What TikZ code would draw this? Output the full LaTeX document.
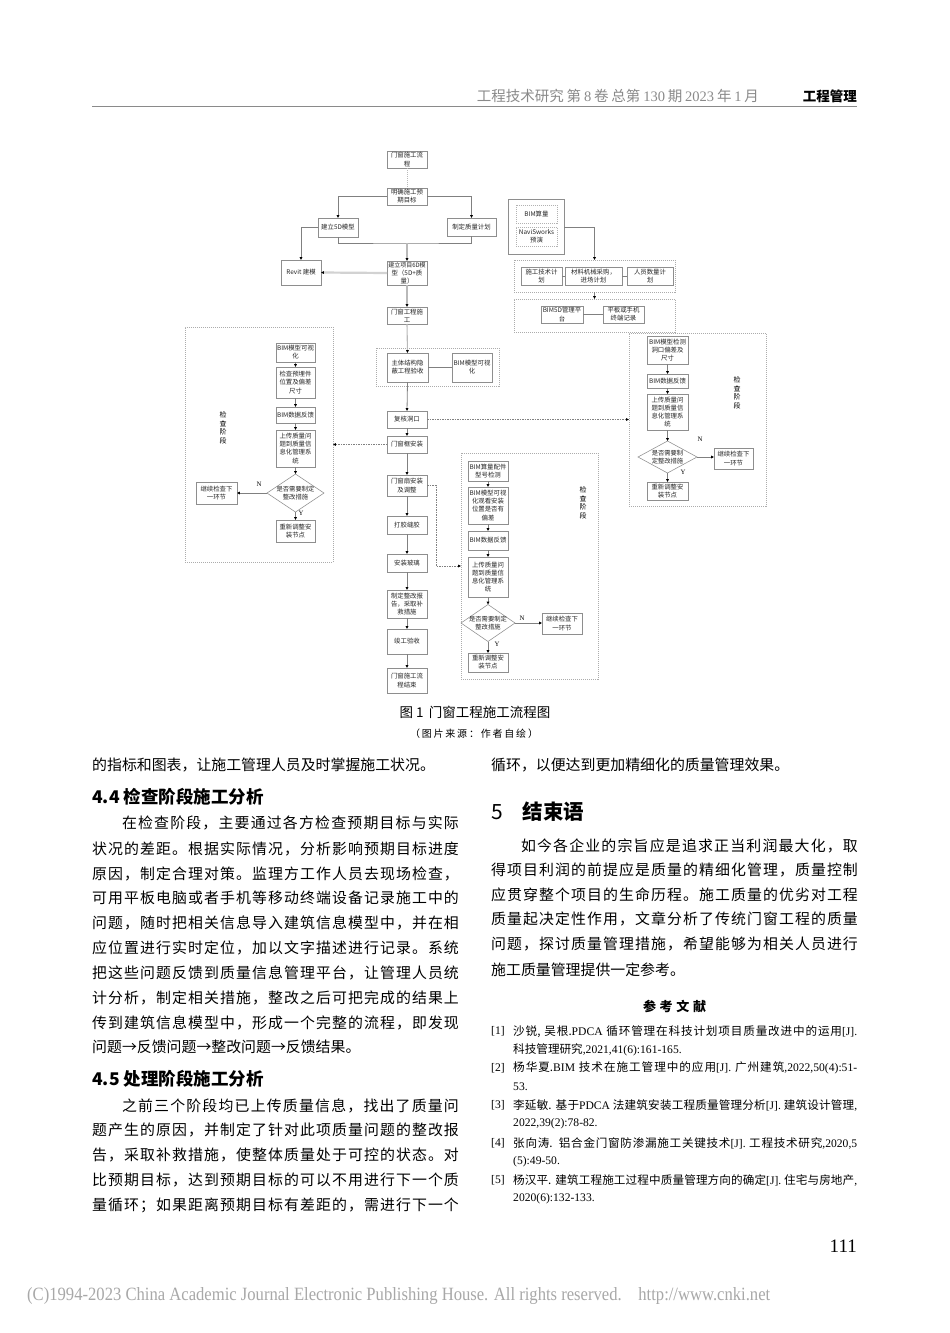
\documentclass[tikz,border=0pt]{standalone}
\usepackage{fontspec}
\setmainfont{Noto Sans CJK SC}
\newfontfamily\tnr{Liberation Serif}
\usetikzlibrary{arrows.meta,shapes.geometric}
% inter-character stretch glue between CJK characters
\XeTeXinterchartokenstate=1
\newXeTeXintercharclass\mycjkcls
\newcount\mycc
\mycc="4E00 \loop \XeTeXcharclass\mycc=\mycjkcls \advance\mycc by 1 \ifnum\mycc<"A000 \repeat
\mycc="3000 \loop \XeTeXcharclass\mycc=\mycjkcls \advance\mycc by 1 \ifnum\mycc<"3040 \repeat
\mycc="FF00 \loop \XeTeXcharclass\mycc=\mycjkcls \advance\mycc by 1 \ifnum\mycc<"FFF0 \repeat
\mycc="2190 \loop \XeTeXcharclass\mycc=\mycjkcls \advance\mycc by 1 \ifnum\mycc<"2200 \repeat
\XeTeXinterchartoks\mycjkcls\mycjkcls={\hskip0pt plus 1pt\relax}
\definecolor{bxc}{HTML}{8E8E8E}
\definecolor{lnc}{HTML}{808080}
\definecolor{hdc}{HTML}{8A8A8A}
\definecolor{cpc}{HTML}{A8A8A8}
\newcount\tcnt
\newcommand\mybx[6]{%
  \pgfmathsetmacro\mybw{#4-#2}\pgfmathsetmacro\mybh{#5-#3}%
  \node[bbox,minimum width=\mybw pt,minimum height=\mybh pt] (#1) at ({(#2+#4)/2},{(#3+#5)/2}) {#6};}
\newcommand\mydbx[6]{%
  \pgfmathsetmacro\mybw{#4-#2}\pgfmathsetmacro\mybh{#5-#3}%
  \node[dbox,minimum width=\mybw pt,minimum height=\mybh pt] (#1) at ({(#2+#4)/2},{(#3+#5)/2}) {#6};}
\newcommand\mygp[6]{%
  \pgfmathsetmacro\mybw{#4-#2}\pgfmathsetmacro\mybh{#5-#3}%
  \node[#6,minimum width=\mybw pt,minimum height=\mybh pt] (#1) at ({(#2+#4)/2},{(#3+#5)/2}) {};}
\newcommand\jl[3]{\global\advance\tcnt by 1\node[btxt] (tx\the\tcnt) at (#1,#2) {\makebox[366.7pt][s]{#3}};}
\newcommand\nl[3]{\global\advance\tcnt by 1\node[btxt] (tx\the\tcnt) at (#1,#2) {#3};}
\newcommand\rl[3]{\global\advance\tcnt by 1\node[rtxt] (tx\the\tcnt) at (#1,#2) {#3};}
\newcommand\rj[3]{\global\advance\tcnt by 1\node[rtxt] (tx\the\tcnt) at (#1,#2) {\makebox[344pt][s]{#3}};}
\begin{document}
\begin{tikzpicture}[x=1pt,y=-1pt,
 bbox/.style={draw=bxc,line width=0.55pt,inner sep=0pt,outer sep=0pt,align=center,font=\fontsize{6.4}{8.1}\selectfont,text=black!85},
 dbox/.style={bbox,dash pattern=on 1pt off 1pt,draw=gray!60},
 grp/.style={draw=gray!65,dash pattern=on 1pt off 1pt,line width=0.55pt,inner sep=0pt,outer sep=0pt},
 sgrp/.style={draw=bxc,line width=0.7pt,inner sep=0pt,outer sep=0pt},
 ln/.style={draw=lnc,line width=0.8pt},
 arr/.style={ln,-{Triangle[length=2.8pt,width=2.6pt,color=black]}},
 darr/.style={arr,dash pattern=on 1.5pt off 1pt,line width=0.6pt},
 dmd/.style={shape=diamond,draw=bxc,line width=0.55pt,inner sep=0pt,outer sep=0pt},
 dtxt/.style={align=center,font=\fontsize{6.3}{8}\selectfont,inner sep=0pt,text=black!85},
 yn/.style={font=\tnr\fontsize{6.8}{7}\selectfont,inner sep=0pt},
 vt/.style={align=center,font=\fontsize{7}{8.6}\selectfont,inner sep=0pt},
 btxt/.style={anchor=west,inner sep=0pt,font=\fontsize{14.9}{18}\selectfont},
 rtxt/.style={anchor=west,inner sep=0pt,font=\fontsize{11.6}{14}\selectfont},
]
\useasboundingbox (0,0) rectangle (950,1333);
\fill[white] (0,0) rectangle (950,1333);

% ---------- header ----------
\node[anchor=west,inner sep=0pt,text=hdc,font=\fontsize{14.5}{16}\selectfont] (hd1) at (476.7,96)
  {\makebox[282pt][s]{工程技术研究 第 {\tnr 8} 卷 总第 {\tnr 130} 期 {\tnr 2023} 年 {\tnr 1} 月}};
\node[anchor=east,inner sep=0pt,font=\bfseries\fontsize{13.5}{15}\selectfont] (hd2) at (857,96) {工程管理};
\draw[hdc,line width=0.8pt] (92,106) -- (857,106);

% ---------- flowchart: top ----------
\mybx{s0}{387}{151}{427}{168}{门窗施工流\\程}
\mybx{s1}{387}{188}{427}{205}{明确施工预\\期目标}
\mybx{m5d}{318}{218}{358}{237}{建立5D模型}
\mybx{zl}{447}{218}{496}{236}{制定质量计划}
\mybx{rv}{281}{260}{321}{285}{Revit 建模}
\mybx{m6d}{387}{261}{427}{285}{{\fontsize{6}{7.8}\selectfont 建立项目6D模}\\型（5D+质\\量）}
\mybx{sg}{387}{307}{427}{324}{门窗工程施\\工}

\mygp{bimbig}{508}{199}{564}{254}{sgrp}
\mydbx{bsl}{516}{205}{557}{223}{BIM算量}
\mydbx{nav}{516}{227}{557}{246}{NaviSworks\\预演}

\mygp{g1}{514}{260}{675}{292}{grp}
\mybx{p1}{521}{267}{562}{285}{施工技术计\\划}
\mybx{p2}{565}{267}{622}{285}{材料机械采购，\\进场计划}
\mybx{p3}{627}{267}{673}{285}{人员数量计\\划}
\mygp{g2}{514}{299}{675}{332}{grp}
\mybx{q1}{541}{306}{583}{323}{BIM5D管理平\\台}
\mybx{q2}{603}{306}{644}{323}{平板或手机\\终端记录}

\mygp{gz}{376}{348}{499}{386}{grp}
\mybx{zt}{387}{353}{428}{382}{主体结构隐\\蔽工程验收}
\mybx{zv}{452}{353}{492}{382}{BIM模型可视\\化}

% ---------- central column ----------
\mybx{fh}{387}{411}{427}{428}{复核洞口}
\mybx{mk}{387}{436}{427}{453}{门窗框安装}
\mybx{ms}{387}{475}{427}{496}{门窗扇安装\\及调整}
\mybx{dj}{387}{516}{427}{534}{打胶缝胶}
\mybx{bl}{387}{554}{427}{572}{安装玻璃}
\mybx{zg}{387}{590}{427}{618}{制定整改报\\告，采取补\\救措施}
\mybx{jg}{387}{629}{427}{654}{竣工验收}
\mybx{js}{387}{668}{427}{693}{门窗施工流\\程结束}

% ---------- left check group ----------
\mygp{gL}{185}{327}{333}{562}{grp}
\mybx{L1}{276}{343}{315}{362}{BIM模型可视\\化}
\mybx{L2}{276}{367}{315}{398}{检查预埋件\\位置及偏差\\尺寸}
\mybx{L3}{276}{407}{315}{423}{BIM数据反馈}
\mybx{L4}{276}{430}{315}{467}{上传质量问\\题到质量信\\息化管理系\\统}
\node[dmd,minimum width=57pt,minimum height=38pt] (dL) at (295.5,493) {};
\node[dtxt] (dLt) at (dL) {是否需要制定\\整改措施};
\mybx{nL}{196}{482}{237}{504}{继续检查下\\一环节}
\mybx{L5}{276}{520}{315}{542}{重新调整安\\装节点}
\node[yn] (nLl) at (259,484) {N};
\node[yn] (yLl) at (301,513) {Y};
\node[vt] (vL) at (223,428) {检\\查\\阶\\段};

% ---------- lower check group ----------
\mygp{g3}{461}{453}{598}{679}{grp}
\mybx{M1}{468}{461}{508}{481}{BIM算量配件\\型号检测}
\mybx{M2}{468}{487}{508}{524}{BIM模型可视\\化观看安装\\位置是否有\\偏差}
\mybx{M3}{468}{531}{508}{550}{BIM数据反馈}
\mybx{M4}{468}{557}{508}{597}{上传质量问\\题到质量信\\息化管理系\\统}
\node[dmd,minimum width=54pt,minimum height=37pt] (dM) at (488,623) {};
\node[dtxt] (dMt) at (dM) {是否需要制定\\整改措施};
\mybx{nM}{542}{613}{582}{634}{继续检查下\\一环节}
\mybx{M5}{468}{653}{508}{672}{重新调整安\\装节点}
\node[yn] (nMl) at (522,618) {N};
\node[yn] (yMl) at (497,644) {Y};
\node[vt] (vM) at (583,503) {检\\查\\阶\\段};

% ---------- right check group ----------
\mygp{gR}{629}{333}{766}{506}{grp}
\mybx{R1}{647}{336}{688}{364}{BIM模型检测\\洞口偏差及\\尺寸}
\mybx{R2}{647}{374}{688}{388}{BIM数据反馈}
\mybx{R3}{647}{394}{688}{430}{上传质量问\\题到质量信\\息化管理系\\统}
\node[dmd,minimum width=59pt,minimum height=32pt] (dR) at (667.5,457) {};
\node[dtxt] (dRt) at (dR) {是否需要制\\定整改措施};
\mybx{nR}{714}{448}{753}{469}{继续检查下\\一环节}
\mybx{R5}{647}{482}{688}{500}{重新调整安\\装节点}
\node[yn] (nRl) at (700,439) {N};
\node[yn] (yRl) at (683,472) {Y};
\node[vt] (vR) at (737,393) {检\\查\\阶\\段};

% ---------- connectors ----------
\draw[draw=gray!55,line width=0.6pt,dash pattern=on 1pt off 1pt] (s0) -- (s1);
\draw[arr] (s1.west) -| (m5d.north);
\draw[arr] (s1.east) -| (zl.north);
\coordinate (jn) at (407,243);
\draw[ln] (m5d.south) |- (jn) -| (zl.south);
\draw[arr,line width=1.1pt,draw=gray!55] (jn) -- (m6d.north);
\draw[arr] (m5d.west) -| (rv.north);
\draw[arr,line width=2.2pt,draw=gray!35] (m6d.west) -- (rv.east);
\draw[arr,line width=1.1pt,draw=gray!55] (m6d.south) -- (sg.north);
\draw[arr,line width=1.1pt,draw=gray!55] (sg.south) -- (zt.north);
\draw[ln] (zt.east) -- (zv.west);
\draw[arr] (bimbig.east |- 0,227) -| (g1.north);
\draw[arr] (g1.south) -- (g2.north);
\draw[ln] (p1.east) -- (p2.west);
\draw[ln] (p2.east) -- (p3.west);
\draw[ln] (q1.east) -- (q2.west);

\draw[arr] (zt.south) -- (fh.north);
\draw[arr] (fh.south) -- (mk.north);
\draw[arr] (mk.south) -- (ms.north);
\draw[arr] (ms.south) -- (dj.north);
\draw[arr] (dj.south) -- (bl.north);
\draw[arr] (bl.south) -- (zg.north);
\draw[arr] (zg.south) -- (jg.north);
\draw[arr] (jg.south) -- (js.north);

\draw[darr] (fh.east) -- (gR.west);
\draw[darr] (mk.west) -- (gL.east);
\draw[darr] (ms.east) -- ++(9,0) |- (g3.west);

\draw[arr] (L1.south) -- (L2.north);
\draw[arr] (L2.south) -- (L3.north);
\draw[arr] (L3.south) -- (L4.north);
\draw[arr] (L4.south) -- (dL.north);
\draw[arr] (dL.west) -- (nL.east);
\draw[arr] (dL.south) -- (L5.north);

\draw[arr] (M1.south) -- (M2.north);
\draw[arr] (M2.south) -- (M3.north);
\draw[arr] (M3.south) -- (M4.north);
\draw[arr] (M4.south) -- (dM.north);
\draw[arr] (dM.east) -- (dM.east -| nM.west);
\draw[arr] (dM.south) -- (M5.north);

\draw[arr] (R1.south) -- (R2.north);
\draw[arr] (R2.south) -- (R3.north);
\draw[arr] (R3.south) -- (dR.north);
\draw[arr] (dR.east) -- (dR.east -| nR.west);
\draw[arr] (dR.south) -- (R5.north);

% ---------- caption ----------
\node[inner sep=0pt,font=\fontsize{13.5}{15}\selectfont] (cap1) at (475,712.7) {图 1\, 门窗工程施工流程图};
\node[inner sep=0pt,font=\fontsize{10}{12}\selectfont] (cap2) at (474,733.3) {\makebox[128pt][s]{（图片来源：作者自绘）}};

% ---------- left column ----------
\nl{92}{765}{的指标和图表，让施工管理人员及时掌握施工状况。}
\node[anchor=west,inner sep=0pt,font=\bfseries\fontsize{17.5}{20}\selectfont] (h44) at (92,796.7) {4.4 检查阶段施工分析};
\jl{92}{823.3}{\hspace*{2em}在检查阶段，主要通过各方检查预期目标与实际}
\jl{92}{849}{状况的差距。根据实际情况，分析影响预期目标进度}
\jl{92}{874}{原因，制定合理对策。监理方工作人员去现场检查，}
\jl{92}{898.3}{可用平板电脑或者手机等移动终端设备记录施工中的}
\jl{92}{923.3}{问题，随时把相关信息导入建筑信息模型中，并在相}
\jl{92}{948.3}{应位置进行实时定位，加以文字描述进行记录。系统}
\jl{92}{972.7}{把这些问题反馈到质量信息管理平台，让管理人员统}
\jl{92}{998.3}{计分析，制定相关措施，整改之后可把完成的结果上}
\jl{92}{1023.3}{传到建筑信息模型中，形成一个完整的流程，即发现}
\nl{92}{1047.3}{问题→反馈问题→整改问题→反馈结果。}
\node[anchor=west,inner sep=0pt,font=\bfseries\fontsize{17.5}{20}\selectfont] (h45) at (92,1078.3) {4.5 处理阶段施工分析};
\jl{92}{1106}{\hspace*{2em}之前三个阶段均已上传质量信息，找出了质量问}
\jl{92}{1130}{题产生的原因，并制定了针对此项质量问题的整改报}
\jl{92}{1155}{告，采取补救措施，使整体质量处于可控的状态。对}
\jl{92}{1180}{比预期目标，达到预期目标的可以不用进行下一个质}
\jl{92}{1205}{量循环；如果距离预期目标有差距的，需进行下一个}

% ---------- right column ----------
\nl{491}{765}{循环，以便达到更加精细化的质量管理效果。}
\node[anchor=west,inner sep=0pt,font=\fontsize{21}{24}\selectfont] (h5n) at (491,811.7) {5};
\node[anchor=west,inner sep=0pt,font=\bfseries\fontsize{20.5}{24}\selectfont] (h5) at (522.7,811.7) {结束语};
\jl{491}{846}{\hspace*{2em}如今各企业的宗旨应是追求正当利润最大化，取}
\jl{491}{870}{得项目利润的前提应是质量的精细化管理，质量控制}
\jl{491}{895}{应贯穿整个项目的生命历程。施工质量的优劣对工程}
\jl{491}{919.3}{质量起决定性作用，文章分析了传统门窗工程的质量}
\jl{491}{944}{问题，探讨质量管理措施，希望能够为相关人员进行}
\nl{491}{969.3}{施工质量管理提供一定参考。}
\node[inner sep=0pt,font=\bfseries\fontsize{13}{15}\selectfont] (ckwx) at (674.5,1006) {\makebox[63pt][s]{参考文献}};

\rl{491}{1031.7}{\tnr [1]}
\rj{513}{1031.7}{沙锐, 吴根.{\tnr PDCA} 循环管理在科技计划项目质量改进中的运用{\tnr [J].}}
\rl{513}{1050}{科技管理研究{\tnr ,2021,41(6):161-165.}}
\rl{491}{1068.3}{\tnr [2]}
\rj{513}{1068.3}{杨华夏.{\tnr BIM} 技术在施工管理中的应用{\tnr [J].} 广州建筑{\tnr ,2022,50(4):51-}}
\rl{513}{1086.7}{\tnr 53.}
\rl{491}{1105}{\tnr [3]}
\rj{513}{1105}{李延敏. 基于{\tnr PDCA} 法建筑安装工程质量管理分析{\tnr [J].} 建筑设计管理{\tnr ,}}
\rl{513}{1123.3}{\tnr 2022,39(2):78-82.}
\rl{491}{1143.3}{\tnr [4]}
\rj{513}{1143.3}{张向涛. 铝合金门窗防渗漏施工关键技术{\tnr [J].} 工程技术研究{\tnr ,2020,5}}
\rl{513}{1161.7}{\tnr (5):49-50.}
\rl{491}{1180.7}{\tnr [5]}
\rj{513}{1180.7}{杨汉平. 建筑工程施工过程中质量管理方向的确定{\tnr [J].} 住宅与房地产{\tnr ,}}
\rl{513}{1198.3}{\tnr 2020(6):132-133.}

% ---------- footer ----------
\node[anchor=east,inner sep=0pt,font=\tnr\fontsize{19}{21}\selectfont] (pg) at (857,1246) {111};
\node[anchor=west,inner sep=0pt,text=cpc,font=\tnr\fontsize{16}{18}\selectfont] (cp) at (27,1296)
  {\resizebox{743pt}{13pt}{(C)1994-2023 China Academic Journal Electronic Publishing House. All rights reserved.\quad http://www.cnki.net}};
\end{tikzpicture}
\end{document}
